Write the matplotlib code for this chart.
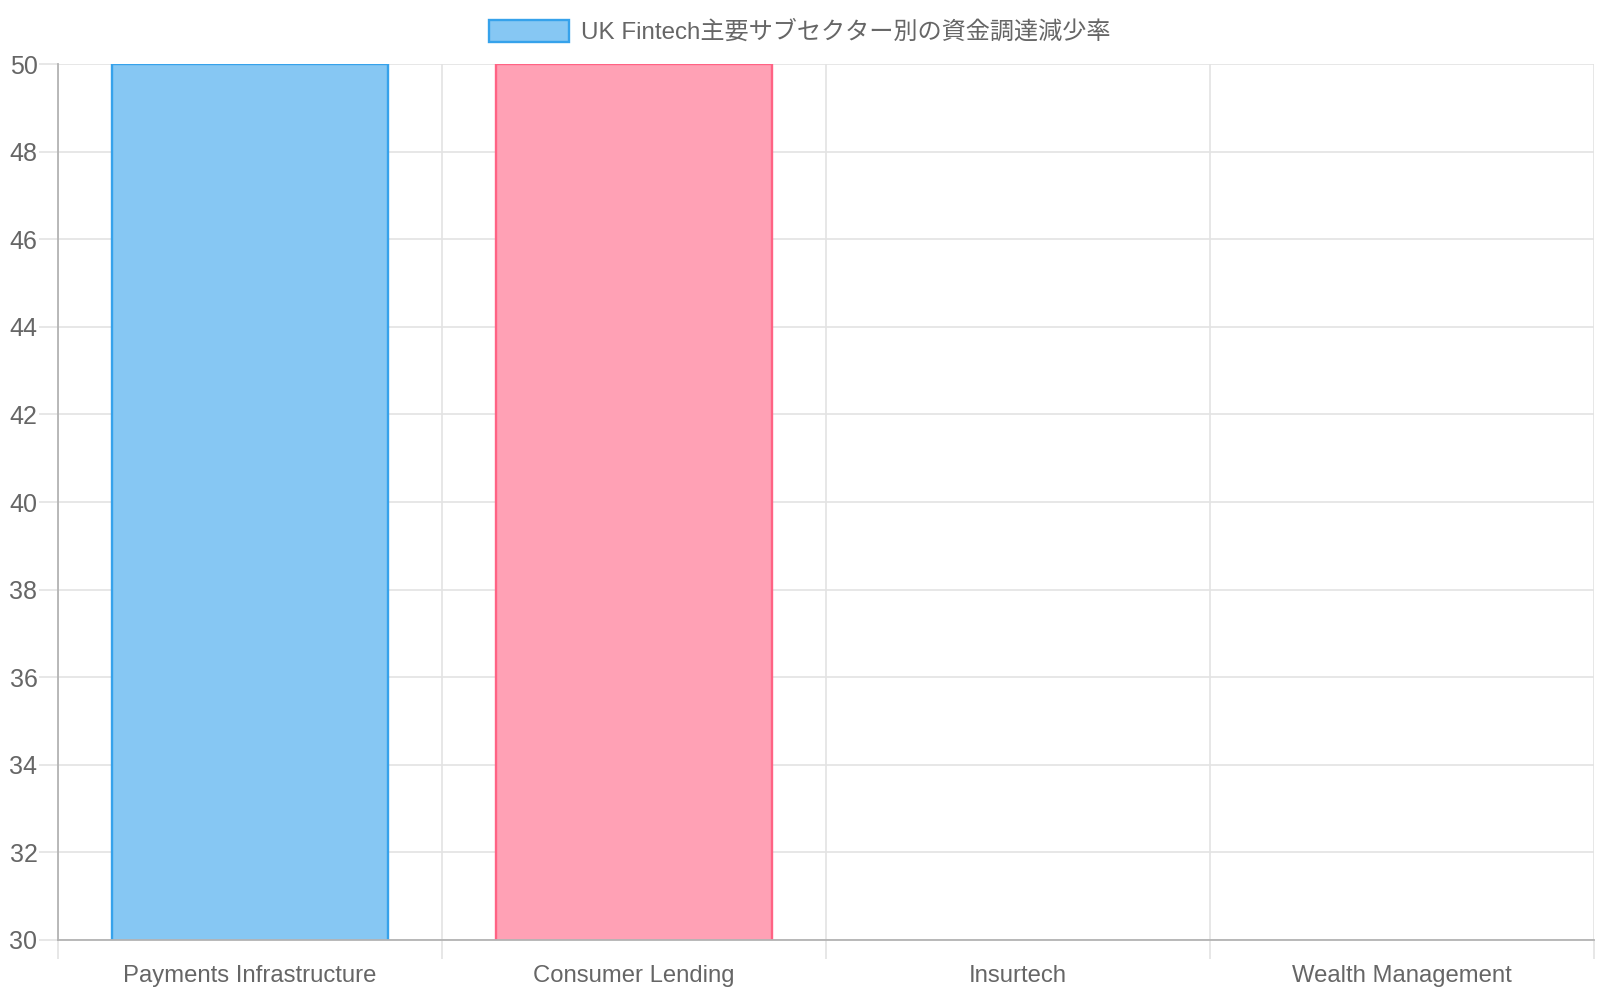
import matplotlib
matplotlib.use('Agg')
import matplotlib.pyplot as plt
from matplotlib.patches import Patch

plt.rcParams['font.family'] = ['Liberation Sans', 'Noto Sans CJK JP']

sectors = ['Payments Infrastructure', 'Consumer Lending', 'Insurtech', 'Wealth Management']
decline_rates = [50, 50, 25, 20]
series_label = 'UK Fintech主要サブセクター別の資金調達減少率'

fill_colors = ['#86c7f3', '#ffa1b5', '#ffe29a', '#93d9d9']
edge_colors = ['#36a2eb', '#ff6384', '#ffce56', '#4bc0c0']

fig = plt.figure(figsize=(16, 10), dpi=100)
ax = fig.add_axes([0.0364, 0.0602, 0.9596, 0.8755])

x = list(range(len(sectors)))
ax.bar(x, decline_rates, width=0.72, color=fill_colors, edgecolor=edge_colors, linewidth=1.7, zorder=3)

ax.set_xlim(-0.5, len(sectors) - 0.5)
ax.set_ylim(30, 50)
ax.set_yticks(range(30, 51, 2))
ax.set_xticks(x)
ax.set_xticklabels(sectors)
ax.set_xticks([i - 0.5 for i in range(len(sectors) + 1)], minor=True)

grid_color = '#e3e3e3'
ax.grid(axis='y', which='major', color=grid_color, linewidth=1.2, zorder=0)
ax.grid(axis='x', which='minor', color=grid_color, linewidth=1.2, zorder=0)

ax.tick_params(axis='y', length=14, width=1.2, color=grid_color, labelsize=18, labelcolor='#666666', pad=1)
ax.tick_params(axis='x', which='major', length=0, labelsize=17.2, labelcolor='#666666', pad=18)
ax.tick_params(axis='x', which='minor', length=14, width=1.2, color=grid_color)

for side in ['top', 'right']:
    ax.spines[side].set_visible(False)
for side in ['left', 'bottom']:
    ax.spines[side].set_color('#b3b3b3')
    ax.spines[side].set_linewidth(1.3)
    ax.spines[side].set_zorder(4)

handle = Patch(facecolor=fill_colors[0], edgecolor=edge_colors[0], linewidth=1.7)
fig.legend(handles=[handle], labels=[series_label], loc='center', bbox_to_anchor=(0.5, 0.968),
           frameon=False, fontsize=17.4, labelcolor='#666666', handlelength=3.3, handleheight=1.0,
           handletextpad=0.5)

fig.savefig('out.png', dpi=100)
